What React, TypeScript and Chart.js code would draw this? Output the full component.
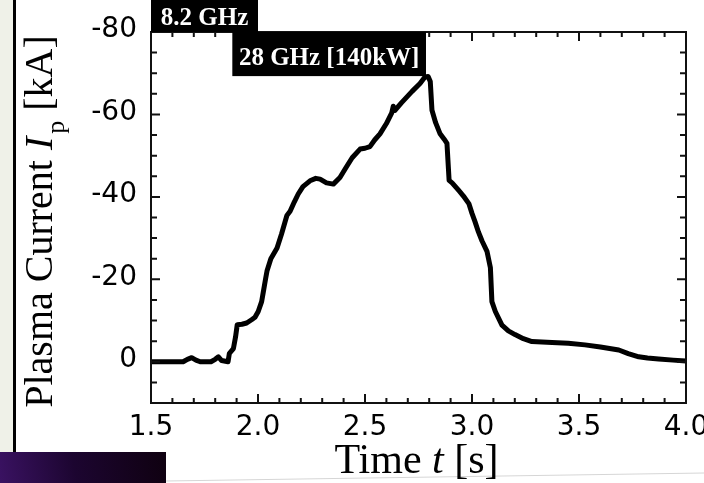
import { useEffect, useRef } from 'react';
import { Chart, registerables } from 'chart.js';

Chart.register(...registerables);

// ---- data ----
const TIME = [
  1.5, 1.6, 1.65, 1.67, 1.69, 1.71, 1.73, 1.78, 1.8, 1.815, 1.83, 1.86, 1.866, 1.885, 1.895, 1.903,
  1.925, 1.947, 1.97, 1.986, 2.001, 2.017, 2.025, 2.035, 2.042, 2.06, 2.089, 2.11, 2.135, 2.15,
  2.17, 2.188, 2.21, 2.243, 2.27, 2.29, 2.32, 2.352, 2.383, 2.41, 2.44, 2.477, 2.5, 2.523, 2.545,
  2.57, 2.6, 2.625, 2.632, 2.64, 2.67, 2.695, 2.72, 2.757, 2.78, 2.795, 2.805, 2.813, 2.83, 2.85,
  2.87, 2.883, 2.893, 2.907, 2.939, 2.96, 2.986, 3.0, 3.014, 3.03, 3.047, 3.07, 3.086, 3.093,
  3.109, 3.14, 3.17, 3.201, 3.24, 3.28, 3.374, 3.45, 3.528, 3.6, 3.686, 3.73, 3.779, 3.82, 3.872,
  3.94, 4.0,
];
const CURRENT = [
  0, 0, 0, -0.6, -1.0, -0.4, 0, 0, -0.6, -1.2, -0.3, 0, -2.0, -3.2, -6, -9,
  -9.1, -9.4, -10.2, -10.8, -12.2, -14.6, -17, -20, -22, -25, -27.6, -31, -35.5, -36.5,
  -38.8, -40.7, -42.5, -43.9, -44.5, -44.3, -43.4, -43.1, -44.7, -47, -49.5, -51.6, -51.8, -52.2, -53.8,
  -55.3, -57.8, -60.4, -62, -61, -62.8, -64.2, -65.6, -67.5, -69.1, -69.2, -68, -61, -58, -55.4,
  -54, -53, -44, -43.4, -41.5, -40.2, -38.3, -36, -34, -31.5, -29.3, -26.8, -22.8, -14.6,
  -12.2, -8.9, -7.5, -6.6, -5.6, -4.9, -4.7, -4.5, -4.1, -3.6, -2.85, -2.0, -1.2, -0.9, -0.65,
  -0.4, -0.2,
];

const X_RANGE = [1.5, 4.0];
const Y_RANGE = [-80, 10];
const X_TICKS = [1.5, 2.0, 2.5, 3.0, 3.5, 4.0];
const X_TICK_LABELS = ['1.5', '2.0', '2.5', '3.0', '3.5', '4.0'];
const Y_TICKS = [-80, -60, -40, -20, 0];
const Y_TICK_LABELS = ['-80', '-60', '-40', '-20', '0'];
const X_MINOR_STEP = 0.1;
const Y_MINOR_STEP = 5;

// heating-period labels (time span, current span)
const BAND_LABELS = ['8.2 GHz', '28 GHz [140kW]'];
const BAND_T_START = [1.5, 1.88];
const BAND_T_END = [2.0, 2.785];
const BAND_I_TOP = [-88, -80];
const BAND_I_BOTTOM = [-80, -69.3];

const X_TITLE = ['Time ', 't', ' [s]'];
const Y_TITLE = ['Plasma Current ', 'I', 'p', ' [kA]'];

const SERIF = '"Liberation Serif", "Times New Roman", serif';
const SANS = '"DejaVu Sans", sans-serif';

const backgroundPlugin = {
  id: 'bg',
  beforeDraw(chart: any) {
    const { ctx, width, height } = chart;
    ctx.save();
    ctx.fillStyle = '#ffffff';
    ctx.fillRect(0, 0, width, height);
    ctx.fillStyle = '#eff1e8';
    ctx.fillRect(0, 0, 13, 452);
    ctx.fillStyle = '#000000';
    ctx.fillRect(13, 0, 3, 452);
    const g = ctx.createLinearGradient(0, 483, 166, 452);
    g.addColorStop(0, '#3a1262');
    g.addColorStop(0.45, '#1c0530');
    g.addColorStop(1, '#0f0110');
    ctx.fillStyle = g;
    ctx.fillRect(0, 452, 166, 31);
    ctx.strokeStyle = '#d6d6d6';
    ctx.lineWidth = 1;
    ctx.beginPath();
    ctx.moveTo(166, 481);
    ctx.lineTo(704, 473);
    ctx.stroke();
    ctx.restore();
  },
};

const framePlugin = {
  id: 'frame',
  afterDatasetsDraw(chart: any) {
    const { ctx, chartArea: a, scales } = chart;
    const xs = scales.x;
    const ys = scales.y;
    ctx.save();
    ctx.strokeStyle = '#111';
    ctx.lineWidth = 2;
    const nx = Math.round((X_RANGE[1] - X_RANGE[0]) / X_MINOR_STEP);
    ctx.beginPath();
    for (let k = 0; k <= nx; k++) {
      const t = X_RANGE[0] + k * X_MINOR_STEP;
      const px = xs.getPixelForValue(t);
      const major = X_TICKS.some((v) => Math.abs(v - t) < 1e-6);
      const len = major ? 9 : 5;
      ctx.moveTo(px, a.bottom);
      ctx.lineTo(px, a.bottom - len);
      ctx.moveTo(px, a.top);
      ctx.lineTo(px, a.top + len);
    }
    const ny = Math.round((Y_RANGE[1] - Y_RANGE[0]) / Y_MINOR_STEP);
    for (let k = 0; k <= ny; k++) {
      const v = Y_RANGE[0] + k * Y_MINOR_STEP;
      const py = ys.getPixelForValue(v);
      const major = Y_TICKS.includes(v);
      const len = major ? 9 : 6;
      ctx.moveTo(a.left, py);
      ctx.lineTo(a.left + len, py);
      ctx.moveTo(a.right, py);
      ctx.lineTo(a.right - len, py);
    }
    ctx.stroke();
    ctx.strokeRect(a.left, a.top, a.right - a.left, a.bottom - a.top);
    ctx.restore();
  },
};

const labelsPlugin = {
  id: 'labels',
  afterDraw(chart: any) {
    const { ctx, chartArea: a, scales } = chart;
    const xs = scales.x;
    const ys = scales.y;
    ctx.save();
    // heating bands
    for (let i = 0; i < BAND_LABELS.length; i++) {
      const x0 = xs.getPixelForValue(BAND_T_START[i]);
      const x1 = xs.getPixelForValue(BAND_T_END[i]);
      const y0 = ys.getPixelForValue(BAND_I_TOP[i]);
      const y1 = ys.getPixelForValue(BAND_I_BOTTOM[i]);
      ctx.fillStyle = '#000';
      ctx.fillRect(x0, y0, x1 - x0, y1 - y0);
      ctx.fillStyle = '#fff';
      ctx.font = `bold 25px ${SERIF}`;
      ctx.textAlign = 'center';
      ctx.textBaseline = 'alphabetic';
      const top = Math.max(y0, 0);
      ctx.fillText(BAND_LABELS[i], (x0 + x1) / 2, top + (y1 - top + 17) / 2 + (i === 1 ? 2 : 0));
    }
    ctx.textAlign = 'left';
    ctx.fillStyle = '#000';
    // x title
    const xf = [`42px ${SERIF}`, `italic 42px ${SERIF}`, `42px ${SERIF}`];
    let total = 0;
    const xw = X_TITLE.map((s, i) => {
      ctx.font = xf[i];
      const w = ctx.measureText(s).width;
      total += w;
      return w;
    });
    let cx = (a.left + a.right) / 2 - total / 2 - 2;
    X_TITLE.forEach((s, i) => {
      ctx.font = xf[i];
      ctx.fillText(s, cx, 473);
      cx += xw[i];
    });
    // y title
    const yf = [`40px ${SERIF}`, `italic 40px ${SERIF}`, `26px ${SERIF}`, `40px ${SERIF}`];
    const dy = [0, 0, 12, 0];
    const gap = [0, 3, 0, 0];
    total = 0;
    const yw = Y_TITLE.map((s, i) => {
      ctx.font = yf[i];
      const w = ctx.measureText(s).width + gap[i];
      total += w;
      return w;
    });
    ctx.translate(52, 221.5);
    ctx.rotate(-Math.PI / 2);
    let p = -total / 2;
    Y_TITLE.forEach((s, i) => {
      ctx.font = yf[i];
      ctx.fillText(s, p, dy[i]);
      p += yw[i];
    });
    ctx.restore();
  },
};

export default function App() {
  const ref = useRef<HTMLCanvasElement>(null);
  useEffect(() => {
    if (!ref.current) return;
    const chart = new Chart(ref.current, {
      type: 'line',
      data: {
        datasets: [
          {
            data: TIME.map((t, i) => ({ x: t, y: CURRENT[i] })),
            borderColor: '#000',
            borderWidth: 5,
            pointRadius: 0,
            tension: 0,
            borderJoinStyle: 'round',
            borderCapStyle: 'round',
          },
        ],
      },
      options: {
        animation: false,
        responsive: false,
        layout: { padding: { top: 32, right: 18, left: 0, bottom: 0 } },
        plugins: { legend: { display: false }, tooltip: { enabled: false } },
        scales: {
          x: {
            type: 'linear',
            min: X_RANGE[0],
            max: X_RANGE[1],
            grid: { display: false, drawTicks: false },
            border: { display: false },
            ticks: {
              color: '#000',
              font: { family: SANS, size: 28 },
              padding: 8,
              maxRotation: 0,
              autoSkip: false,
              callback: (v: any) => {
                const i = X_TICKS.findIndex((t) => Math.abs(t - Number(v)) < 1e-6);
                return i >= 0 ? X_TICK_LABELS[i] : '';
              },
            },
            afterBuildTicks: (s: any) => {
              s.ticks = X_TICKS.map((v) => ({ value: v }));
            },
            afterFit: (s: any) => {
              s.height = 80;
              s.paddingLeft = 0;
              s.paddingRight = 0;
            },
          },
          y: {
            type: 'linear',
            min: Y_RANGE[0],
            max: Y_RANGE[1],
            reverse: true,
            grid: { display: false, drawTicks: false },
            border: { display: false },
            ticks: {
              color: '#000',
              font: { family: SANS, size: 28 },
              padding: 14,
              labelOffset: -2,
              autoSkip: false,
              callback: (v: any) => {
                const i = Y_TICKS.indexOf(Number(v));
                return i >= 0 ? Y_TICK_LABELS[i] : '';
              },
            },
            afterBuildTicks: (s: any) => {
              s.ticks = Y_TICKS.map((v) => ({ value: v }));
            },
            afterFit: (s: any) => {
              s.width = 151;
              s.paddingTop = 0;
              s.paddingBottom = 0;
            },
          },
        },
      },
      plugins: [backgroundPlugin, framePlugin, labelsPlugin],
    } as any);
    return () => chart.destroy();
  }, []);
  return (
    <div style={{ position: 'fixed', left: 0, top: 0, width: 704, height: 483 }}>
      <canvas ref={ref} width={704} height={483} style={{ display: 'block', width: 704, height: 483 }} />
    </div>
  );
}
